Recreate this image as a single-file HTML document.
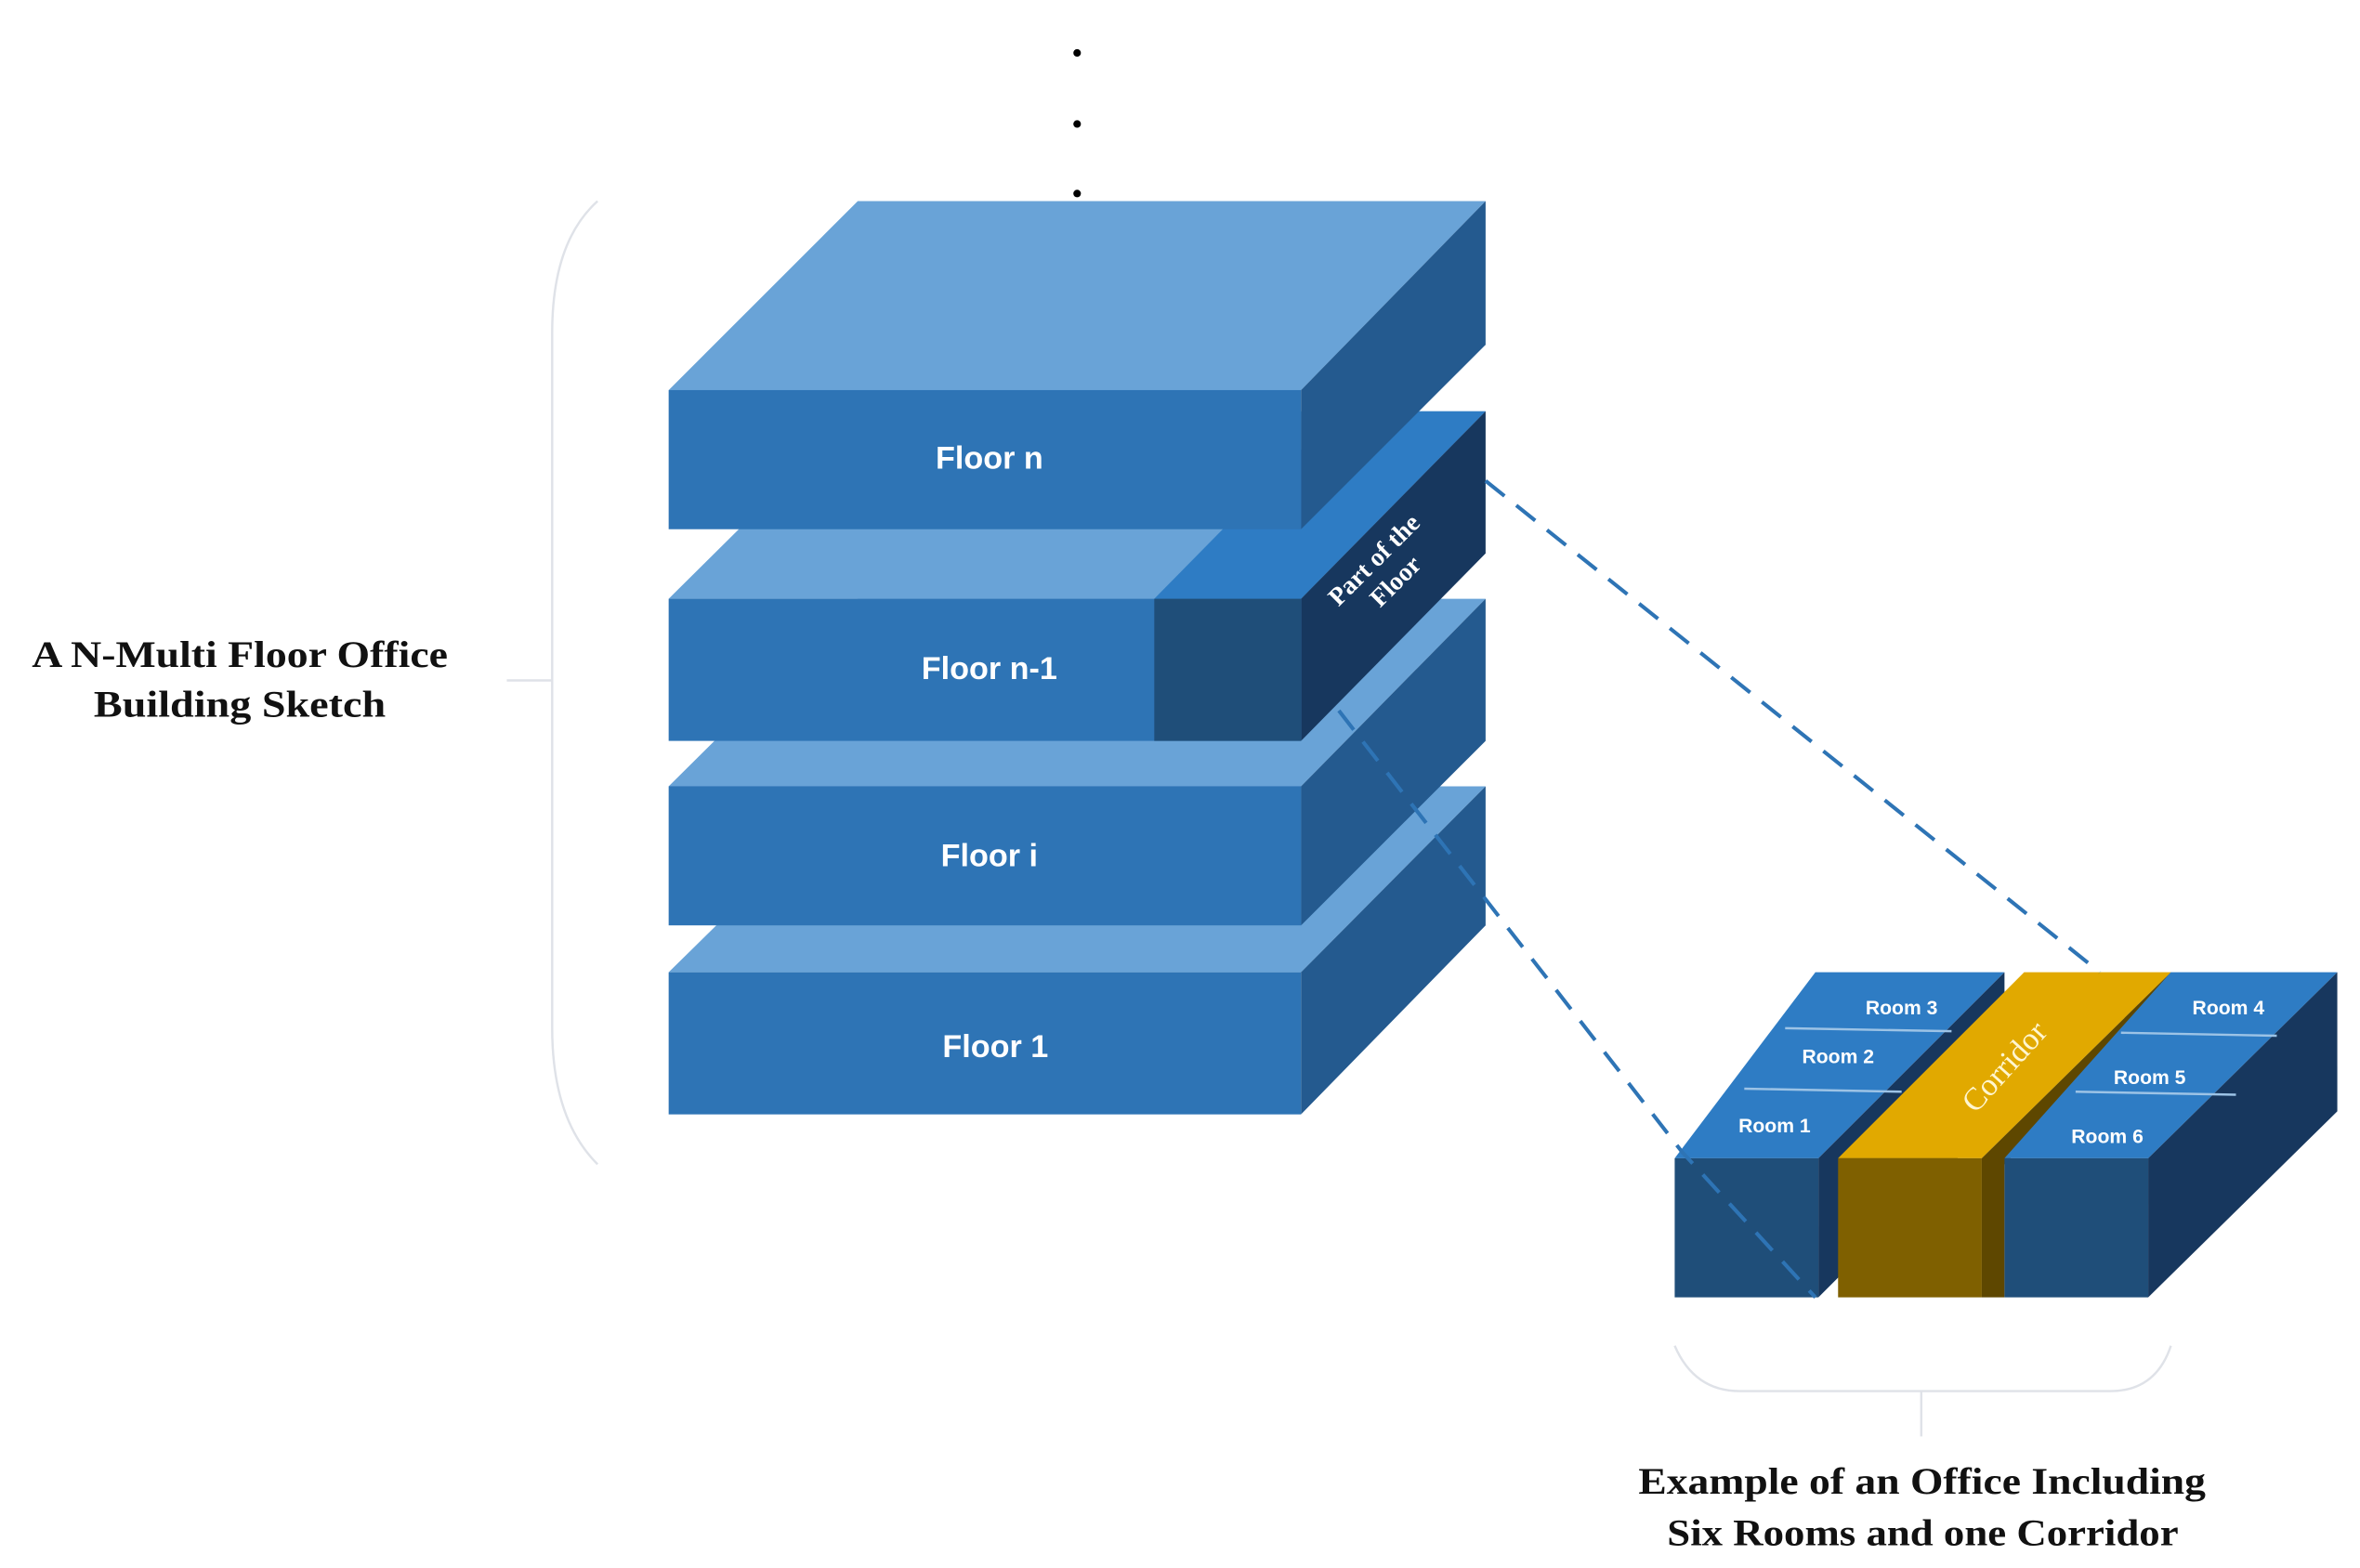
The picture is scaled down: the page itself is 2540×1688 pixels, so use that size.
<!DOCTYPE html>
<html><head><meta charset="utf-8"><style>html,body{margin:0;padding:0;background:#fff}svg{display:block}</style></head>
<body>
<svg width="2540" height="1688" viewBox="0 0 1560 1037" preserveAspectRatio="none" xmlns="http://www.w3.org/2000/svg">
<rect width="1560" height="1037" fill="#fff"/>
<!-- dots -->
<circle cx="712" cy="35" r="2.5" fill="#000"/><circle cx="712" cy="82" r="2.5" fill="#000"/><circle cx="712" cy="128" r="2.5" fill="#000"/>
<!-- left brace -->
<path d="M395,133 Q365,160 365,220 L365,680 Q365,740 395,770" fill="none" stroke="#dfe2e8" stroke-width="1.5"/>
<line x1="335" y1="450" x2="365" y2="450" stroke="#dfe2e8" stroke-width="1.5"/>
<g font-family="Liberation Serif, serif" font-weight="bold" font-size="25" fill="#111">
<text x="21" y="441" textLength="275" lengthAdjust="spacingAndGlyphs">A N-Multi Floor Office</text>
<text x="62" y="474" textLength="193" lengthAdjust="spacingAndGlyphs">Building Sketch</text>
<text x="1083" y="988" textLength="375" lengthAdjust="spacingAndGlyphs">Example of an Office Including</text>
<text x="1102" y="1022" textLength="338" lengthAdjust="spacingAndGlyphs">Six Rooms and one Corridor</text>
</g>
<!-- Floor 1 -->
<polygon points="442,643 567,520 982,520 860,643" fill="#69a3d7"/>
<polygon points="860,643 982,520 982,612 860,737" fill="#245a8f"/>
<rect x="442" y="643" width="418" height="94" fill="#2e74b5"/>
<!-- Floor i -->
<polygon points="442,520 567,396 982,396 860,520" fill="#69a3d7"/>
<polygon points="860,520 982,396 982,490 860,612" fill="#245a8f"/>
<rect x="442" y="520" width="418" height="92" fill="#2e74b5"/>
<!-- Floor n-1 -->
<polygon points="442,396 567,272 982,272 860,396" fill="#69a3d7"/>
<polygon points="763,396 885,272 982,272 860,396" fill="#2e7cc4"/>
<polygon points="860,396 982,272 982,366 860,490" fill="#17375e"/>
<rect x="442" y="396" width="418" height="94" fill="#2e74b5"/>
<rect x="763" y="396" width="97" height="94" fill="#1f4e79"/>
<!-- Floor n -->
<polygon points="442,258 567,133 982,133 860,258" fill="#69a3d7"/>
<polygon points="860,258 982,133 982,228 860,350" fill="#245a8f"/>
<rect x="442" y="258" width="418" height="92" fill="#2e74b5"/>
<g font-family="Liberation Sans, sans-serif" font-weight="bold" font-size="21" fill="#fff" text-anchor="middle">
<text x="654" y="310">Floor  n</text>
<text x="654" y="449">Floor  n-1</text>
<text x="654" y="573">Floor  i</text>
<text x="658" y="699">Floor  1</text>
</g>
<g font-family="Liberation Serif, serif" font-weight="bold" font-size="17" fill="#fff" text-anchor="middle" transform="translate(915,377) rotate(-45)">
<text x="0" y="-4">Part of the</text><text x="0" y="16">Floor</text>
</g>
<!-- office -->
<polygon points="1107,766 1200,643 1325,643 1202,766" fill="#2e7cc4"/>
<polygon points="1202,766 1325,643 1325,735 1202,858" fill="#17375e"/>
<rect x="1107" y="766" width="95" height="92" fill="#1f4e79"/>
<polygon points="1215,766 1338,643 1435,643 1310,766" fill="#e1a900"/>
<polygon points="1310,766 1435,643 1435,660 1325,770 1325,858 1310,858" fill="#5e4700"/>
<rect x="1215" y="766" width="95" height="92" fill="#7f6000"/>
<polygon points="1325,766 1435,643 1545,643 1420,766" fill="#2e7cc4"/>
<polygon points="1420,766 1545,643 1545,735 1420,858" fill="#17375e"/>
<rect x="1325" y="766" width="95" height="92" fill="#1f4e79"/>
<g stroke="#9cc3e6" stroke-width="1.5">
<line x1="1153" y1="720" x2="1257" y2="722"/><line x1="1180" y1="680" x2="1290" y2="682"/>
<line x1="1372" y1="722" x2="1478" y2="724"/><line x1="1402" y1="683" x2="1505" y2="685"/>
</g>
<g font-family="Liberation Sans, sans-serif" font-weight="bold" font-size="13" fill="#fff" text-anchor="middle">
<text x="1257" y="671">Room 3</text><text x="1215" y="703">Room 2</text><text x="1173" y="749">Room 1</text>
<text x="1473" y="671">Room 4</text><text x="1421" y="717">Room 5</text><text x="1393" y="756">Room 6</text>
</g>
<text transform="translate(1330,710) rotate(-48)" font-family="Liberation Serif, serif" font-size="21" fill="#fff6d0" text-anchor="middle">Corridor</text>
<g stroke="#2e74b5" stroke-width="2.5" stroke-dasharray="16,10" fill="none">
<line x1="982" y1="318" x2="1388" y2="643"/>
<polyline points="885,470 1112,762 1200,858"/>
</g>
<path d="M1107,890 Q1120,920 1150,920 L1395,920 Q1425,920 1435,890" fill="none" stroke="#dfe2e8" stroke-width="1.5"/>
<line x1="1270" y1="920" x2="1270" y2="950" stroke="#dfe2e8" stroke-width="1.5"/>
</svg>
</body></html>
